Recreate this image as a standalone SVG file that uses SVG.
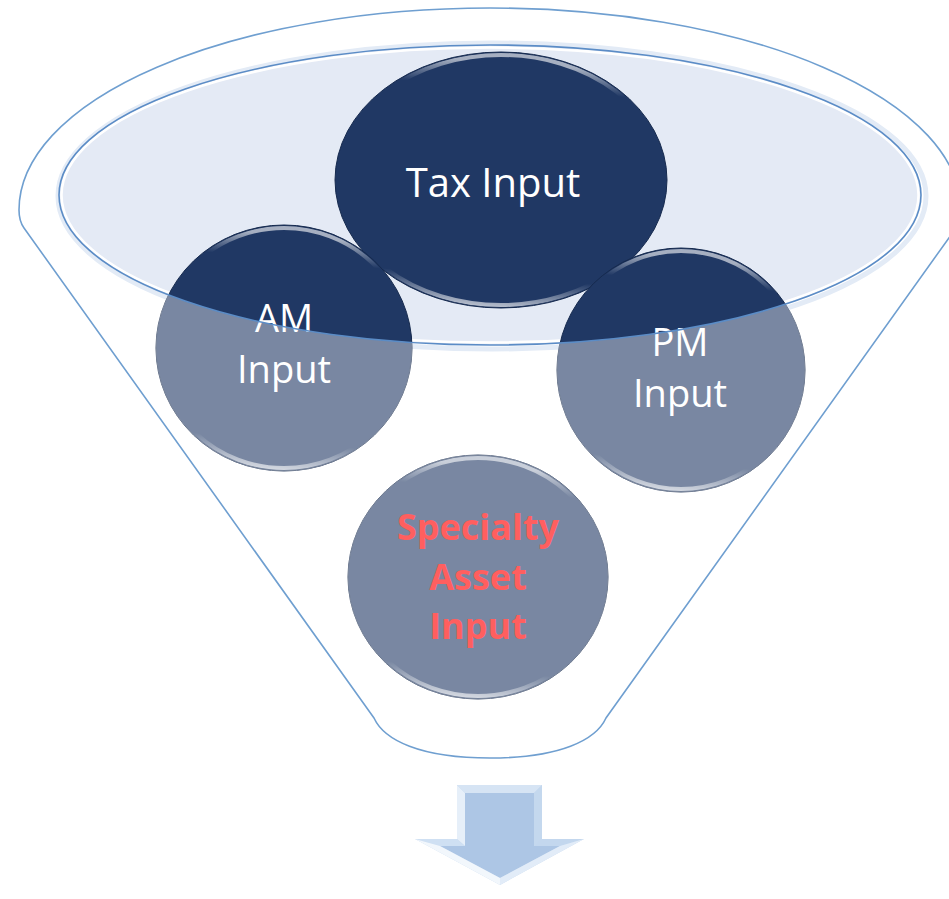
<svg xmlns="http://www.w3.org/2000/svg" width="949" height="899" viewBox="0 0 949 899">
<defs>
<style>
.lbl{font-family:"Open Sans","Liberation Sans",sans-serif;font-size:38px;fill:#ffffff;text-anchor:middle}
.big{font-size:40px}
.spec{font-family:"Open Sans","Liberation Sans",sans-serif;font-size:36px;font-weight:bold;fill:#ff5f5f;text-anchor:middle}
.disc{fill:#203864}
.rim{fill:none;stroke:url(#rimg);stroke-width:4}
.edge{fill:none;stroke:#162a4e;stroke-width:1}
.veil{fill:#ffffff;fill-opacity:0.4}
</style>
<linearGradient id="rimg" x1="0.2" y1="0" x2="0.1" y2="1">
<stop offset="0" stop-color="#ffffff" stop-opacity="0.6"/>
<stop offset="0.1" stop-color="#ffffff" stop-opacity="0"/>
<stop offset="0.85" stop-color="#ffffff" stop-opacity="0"/>
<stop offset="1" stop-color="#ffffff" stop-opacity="0.85"/>
</linearGradient>
<clipPath id="front"><path clip-rule="evenodd" d="M0,0H949V899H0Z M59,195 A431,150 0 1,0 921,195 A431,150 0 1,0 59,195Z"/></clipPath>
</defs>

<g id="funnel">
<path d="M374,718 L24,228 Q19,221 19,210 A471,202 0 0,1 961,210 Q961,221 956,228 L606,718 C596,740 560,758 490,758 C420,758 384,740 374,718Z" fill="#ffffff" stroke="#6f9fd0" stroke-width="1.6"/>
<ellipse cx="492" cy="196" rx="434" ry="153" fill="none" stroke="#e3ebf6" stroke-width="5"/>
<ellipse cx="490" cy="195" rx="431" ry="150" fill="#e4eaf5"/>
<ellipse cx="490" cy="195" rx="428.5" ry="147.5" fill="none" stroke="#ffffff" stroke-width="2.5"/>
</g>

<g id="node-tax">
<ellipse class="disc" cx="501" cy="180" rx="166" ry="128"/>
<ellipse class="rim" cx="501" cy="180" rx="163" ry="125"/>
<ellipse class="edge" cx="501" cy="180" rx="166" ry="128"/>
<text class="lbl big" x="493" y="197">Tax Input</text>
</g>

<g id="node-am">
<ellipse class="disc" cx="284" cy="348" rx="128" ry="123"/>
<ellipse class="rim" cx="284" cy="348" rx="125" ry="120"/>
<ellipse class="edge" cx="284" cy="348" rx="128" ry="123"/>
<ellipse class="veil" clip-path="url(#front)" cx="284" cy="348" rx="128.5" ry="123.5"/>
<text class="lbl" x="284" y="332">AM</text>
<text class="lbl" x="284" y="383">Input</text>
</g>

<g id="node-pm">
<ellipse class="disc" cx="681" cy="370" rx="124" ry="122"/>
<ellipse class="rim" cx="681" cy="370" rx="121" ry="119"/>
<ellipse class="edge" cx="681" cy="370" rx="124" ry="122"/>
<ellipse class="veil" clip-path="url(#front)" cx="681" cy="370" rx="124.5" ry="122.5"/>
<text class="lbl" x="680" y="356">PM</text>
<text class="lbl" x="680" y="407">Input</text>
</g>

<g id="node-specialty">
<ellipse class="disc" cx="478" cy="577" rx="130" ry="122"/>
<ellipse class="rim" cx="478" cy="577" rx="127" ry="119"/>
<ellipse class="edge" cx="478" cy="577" rx="130" ry="122"/>
<ellipse class="veil" clip-path="url(#front)" cx="478" cy="577" rx="130.5" ry="122.5"/>
<text class="spec" x="478" y="540">Specialty</text>
<text class="spec" x="478" y="590">Asset</text>
<text class="spec" x="478" y="639">Input</text>
</g>

<g id="rim">
<ellipse cx="490" cy="195" rx="431" ry="150" fill="none" stroke="#5b8cc6" stroke-width="1.6"/>
</g>

<g id="connectors">
<polygon points="457,785 542,785 542,839 584,839 500,885 415,839 457,839" fill="#c9dbf0"/>
<polygon points="457,785 465,793 465,846 457,839" fill="#e6eff9"/>
<polygon points="457,785 542,785 534,793 465,793" fill="#d6e4f4"/>
<polygon points="542,785 542,839 534,846 534,793" fill="#c4d8ee"/>
<polygon points="465,793 534,793 534,846 560,846 500,878 440,846 465,846" fill="#adc6e5"/>
<polygon points="415,839 457,839 465,846 440,846" fill="#cfe0f3"/>
<polygon points="542,839 584,839 560,846 534,846" fill="#c3d7ee"/>
<polygon points="415,839 440,846 500,878 500,885" fill="#f2f7fc"/>
<polygon points="584,839 500,885 500,878 560,846" fill="#e2ecf8"/>
</g>
</svg>
